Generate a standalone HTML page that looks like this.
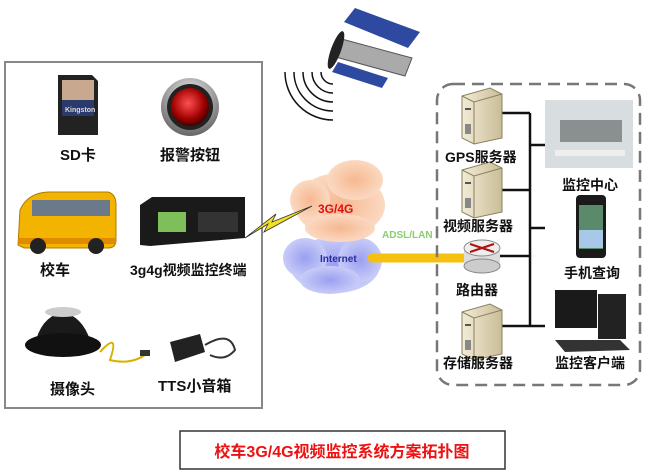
<!DOCTYPE html>
<html><head><meta charset="utf-8"><style>
body{margin:0;background:#fff;overflow:hidden;}
svg{display:block;}
svg text{font-family:"Liberation Sans","Noto Sans CJK SC",sans-serif;font-weight:bold;}
</style></head><body>
<svg width="646" height="472" viewBox="0 0 646 472" xmlns="http://www.w3.org/2000/svg">
<defs>
<linearGradient id="srv" x1="0" x2="1"><stop offset="0" stop-color="#f3ecd6"/><stop offset="1" stop-color="#c9bd98"/></linearGradient>
<radialGradient id="btn" cx="0.45" cy="0.4" r="0.6"><stop offset="0" stop-color="#ff5050"/><stop offset="0.7" stop-color="#a00000"/><stop offset="1" stop-color="#400"/></radialGradient>
<radialGradient id="ring" cx="0.5" cy="0.3" r="0.7"><stop offset="0" stop-color="#eee"/><stop offset="1" stop-color="#666"/></radialGradient>
<radialGradient id="cor" cx="0.5" cy="0.5" r="0.5"><stop offset="0" stop-color="#f6b890"/><stop offset="1" stop-color="#fbd9c2"/></radialGradient>
<radialGradient id="cbl" cx="0.5" cy="0.5" r="0.5"><stop offset="0" stop-color="#9aa0f0"/><stop offset="1" stop-color="#c8ccf8"/></radialGradient>
<g id="server"><path d="M0 8 L28 0 L40 6 L40 50 L12 56 L0 50Z" fill="url(#srv)" stroke="#8a8060" stroke-width="1"/><path d="M0 8 L12 14 L40 6" fill="none" stroke="#8a8060"/><line x1="12" y1="14" x2="12" y2="56" stroke="#8a8060"/><rect x="3" y="20" width="6" height="2" fill="#555"/><rect x="3" y="36" width="6" height="10" fill="#888"/></g>
</defs>
<rect x="5" y="62" width="257" height="346" fill="none" stroke="#888" stroke-width="2"/>
<path d="M58 75 L92 75 L98 81 L98 135 L58 135Z" fill="#222"/>
<rect x="62" y="80" width="32" height="20" fill="#c9a890"/>
<rect x="62" y="100" width="32" height="16" fill="#2a3a6a"/>
<text x="65" y="112" font-size="7" fill="#ddd" font-family="Liberation Serif">Kingston</text>
<text x="60" y="160" font-size="15" fill="#111">SD卡</text>
<circle cx="190" cy="107" r="29" fill="url(#ring)"/>
<circle cx="190" cy="107" r="23" fill="#222"/>
<circle cx="190" cy="107" r="19" fill="url(#btn)"/>
<text x="160" y="160" font-size="15" fill="#111">报警按钮</text>
<path d="M18 245 L20 210 Q28 192 50 192 L108 192 Q116 194 116 205 L116 240 Q116 248 108 248 L24 248Z" fill="#f2b400" stroke="#b07a00"/>
<rect x="32" y="200" width="78" height="16" fill="#6a7a8a"/>
<rect x="18" y="238" width="98" height="6" fill="#e08a00"/>
<circle cx="38" cy="246" r="8" fill="#222"/><circle cx="96" cy="246" r="8" fill="#222"/>
<text x="40" y="275" font-size="15" fill="#111">校车</text>
<path d="M140 205 L152 197 L245 197 L245 238 L150 246 L140 245Z" fill="#1a1a1a"/>
<rect x="158" y="212" width="28" height="20" fill="#7fbf5a"/>
<rect x="198" y="212" width="40" height="20" fill="#333"/>
<text x="130" y="275" font-size="14" fill="#111">3g4g视频监控终端</text>
<path d="M35 345 Q40 318 62 312 Q82 316 90 340Z" fill="#1a1a1a"/>
<ellipse cx="63" cy="345" rx="38" ry="12" fill="#111"/>
<ellipse cx="63" cy="312" rx="18" ry="5" fill="#ccc"/>
<path d="M100 352 Q120 330 110 360 Q130 365 145 355" fill="none" stroke="#d8b000" stroke-width="2"/>
<rect x="140" y="350" width="10" height="6" fill="#333"/>
<text x="50" y="394" font-size="15" fill="#111">摄像头</text>
<path d="M170 342 L200 334 L205 352 L175 362Z" fill="#222"/>
<path d="M205 345 Q230 330 235 350 Q225 362 210 355" fill="none" stroke="#333" stroke-width="2"/>
<text x="158" y="391" font-size="15" fill="#111">TTS小音箱</text>
<!-- satellite -->
<path d="M355 8 L420 32 L408 48 L344 22Z" fill="#2e4aa0"/>
<path d="M338 62 L388 78 L382 88 L332 72Z" fill="#2e4aa0"/>
<path d="M338 38 L412 58 L405 76 L332 56Z" fill="#aaa" stroke="#555"/>
<ellipse cx="336" cy="50" rx="5" ry="20" transform="rotate(20 336 50)" fill="#222"/>
<g fill="none" stroke="#111" stroke-width="1.5">
<path d="M321 72 A12 12 0 0 0 333 84"/><path d="M312 72 A21 21 0 0 0 333 93"/><path d="M303 72 A30 30 0 0 0 333 102"/><path d="M294 72 A39 39 0 0 0 333 111"/><path d="M285 72 A48 48 0 0 0 333 120"/>
</g>
<g fill="url(#cbl)"><ellipse cx="335" cy="265" rx="45" ry="28"/><ellipse cx="305" cy="258" rx="22" ry="20"/><ellipse cx="360" cy="260" rx="22" ry="22"/><ellipse cx="330" cy="280" rx="30" ry="14"/></g>
<g fill="url(#cor)"><ellipse cx="340" cy="205" rx="45" ry="32"/><ellipse cx="310" cy="200" rx="20" ry="20"/><ellipse cx="355" cy="180" rx="28" ry="20"/><ellipse cx="340" cy="228" rx="35" ry="14"/></g>
<text x="318" y="213" font-size="12" fill="#e01010">3G/4G</text>
<text x="320" y="262" font-size="10" fill="#2a2aa0" font-weight="normal">Internet</text>
<path d="M245 238 L268 224 L264 232 L312 206 L272 222 L276 214Z" fill="#f2e020" stroke="#333" stroke-width="0.8"/>
<line x1="372" y1="258" x2="465" y2="258" stroke="#f5c010" stroke-width="9" stroke-linecap="round"/>
<text x="382" y="238" font-size="10" fill="#8ccc70">ADSL/LAN</text>
<rect x="437" y="84" width="203" height="301" rx="16" fill="none" stroke="#777" stroke-width="2.5" stroke-dasharray="12 7"/>
<g stroke="#111" stroke-width="2.5" fill="none">
<line x1="530" y1="113" x2="530" y2="327"/>
<line x1="484" y1="113" x2="530" y2="113"/>
<line x1="484" y1="190" x2="530" y2="190"/>
<line x1="485" y1="256" x2="530" y2="256"/>
<line x1="484" y1="326" x2="545" y2="326"/>
<line x1="530" y1="145" x2="545" y2="145"/>
<line x1="530" y1="228" x2="545" y2="228"/>
</g>
<use href="#server" x="462" y="88"/>
<use href="#server" x="462" y="162"/>
<use href="#server" x="462" y="304"/>
<rect x="464" y="248" width="36" height="18" fill="#ddd"/>
<ellipse cx="482" cy="266" rx="18" ry="7" fill="#ccc" stroke="#888"/>
<ellipse cx="482" cy="248" rx="18" ry="8" fill="#eee" stroke="#888"/>
<path d="M470 244 L494 252 M494 244 L470 252" stroke="#b01010" stroke-width="2"/>
<text x="445" y="162" font-size="14" fill="#111">GPS服务器</text>
<text x="443" y="231" font-size="14" fill="#111">视频服务器</text>
<text x="456" y="295" font-size="14" fill="#111">路由器</text>
<text x="443" y="368" font-size="14" fill="#111">存储服务器</text>
<rect x="545" y="100" width="88" height="68" fill="#d8dde0"/>
<rect x="560" y="120" width="62" height="22" fill="#8a9090"/>
<rect x="555" y="150" width="70" height="6" fill="#eee"/>
<text x="562" y="190" font-size="14" fill="#111">监控中心</text>
<rect x="576" y="195" width="30" height="63" rx="4" fill="#1a1a1a"/>
<rect x="579" y="205" width="24" height="44" fill="#5a8a6a"/>
<rect x="579" y="230" width="24" height="18" fill="#a8c8e8"/>
<text x="564" y="278" font-size="14" fill="#111">手机查询</text>
<rect x="555" y="290" width="42" height="38" fill="#1a1a1a"/>
<rect x="598" y="294" width="28" height="45" fill="#222"/>
<path d="M555 340 L620 340 L630 350 L565 352Z" fill="#333"/>
<text x="555" y="368" font-size="14" fill="#111">监控客户端</text>
<rect x="180" y="431" width="325" height="38" fill="#fff" stroke="#333" stroke-width="1.5"/>
<text x="342" y="457" font-size="16" fill="#ee1111" text-anchor="middle">校车3G/4G视频监控系统方案拓扑图</text>
</svg>
</body></html>
